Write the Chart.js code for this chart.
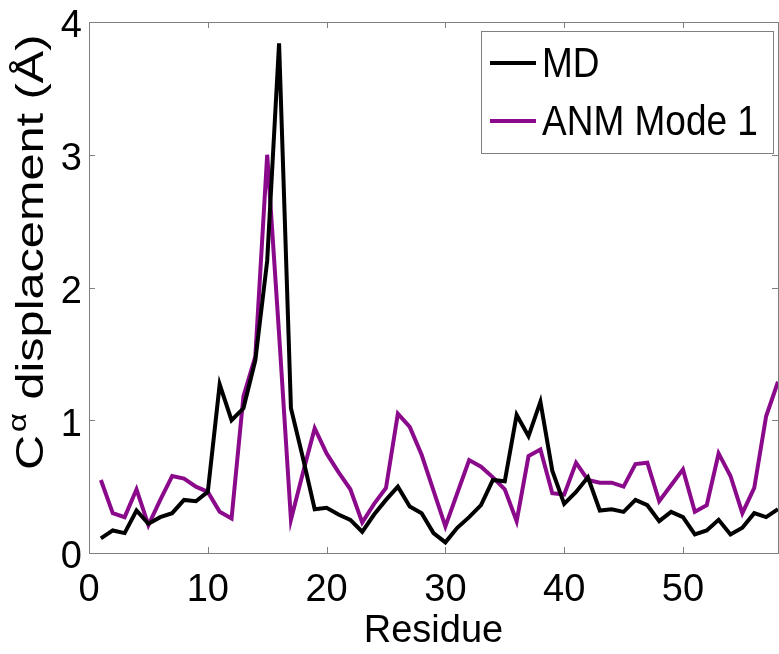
<!DOCTYPE html>
<html>
<head>
<meta charset="utf-8">
<script src="https://cdn.jsdelivr.net/npm/chart.js@4"></script>
<style>
html,body{margin:0;padding:0;background:#fff;}
#c{display:block;}
</style>
</head>
<body>
<canvas id="c" width="779" height="654"></canvas>
<script>
const residues = [1,2,3,4,5,6,7,8,9,10,11,12,13,14,15,16,17,18,19,20,21,22,23,24,25,26,27,28,29,30,31,32,33,34,35,36,37,38,39,40,41,42,43,44,45,46,47,48,49,50,51,52,53,54,55,56,57,58];
const mdValues = [0.11,0.17,0.15,0.32,0.22,0.27,0.30,0.40,0.39,0.46,1.27,1.00,1.09,1.45,2.20,3.84,1.09,0.72,0.33,0.34,0.29,0.25,0.16,0.29,0.40,0.50,0.35,0.30,0.15,0.08,0.19,0.27,0.36,0.55,0.54,1.04,0.88,1.14,0.62,0.37,0.46,0.57,0.32,0.33,0.31,0.40,0.36,0.24,0.31,0.27,0.14,0.17,0.25,0.14,0.19,0.30,0.27,0.33];
const anmValues = [0.55,0.30,0.27,0.48,0.21,0.40,0.58,0.56,0.50,0.46,0.31,0.26,1.18,1.48,3.00,1.65,0.25,0.60,0.94,0.75,0.61,0.48,0.23,0.37,0.49,1.05,0.95,0.74,0.47,0.20,0.45,0.70,0.65,0.57,0.48,0.24,0.73,0.78,0.45,0.44,0.68,0.55,0.53,0.53,0.50,0.67,0.68,0.39,0.51,0.63,0.31,0.36,0.75,0.58,0.30,0.49,1.03,1.29];
const xTickValues = [0, 10, 20, 30, 40, 50];
const yTickValues = [0, 1, 2, 3, 4];
const seriesLabels = ['MD', 'ANM Mode 1'];
const xTitle = 'Residue';
const yTitleMain = 'C';
const yTitleSup = '\u03B1';
const yTitleRest = ' displacement (\u00C5)';

const FONT = "'Liberation Sans', Arial, sans-serif";
const toPts = (vals) => residues.map((r, i) => ({x: r, y: vals[i]}));

const frameTicks = {
  id: 'frameTicks',
  afterDraw(chart) {
    const {ctx, chartArea: a, scales} = chart;
    ctx.save();
    ctx.strokeStyle = '#808080';
    ctx.lineWidth = 1;
    ctx.strokeRect(a.left + 0.5, a.top + 0.5, a.right - a.left, a.bottom - a.top);
    const L = 6;
    ctx.beginPath();
    scales.x.ticks.forEach(t => {
      const px = Math.round(scales.x.getPixelForValue(t.value)) + 0.5;
      ctx.moveTo(px, a.bottom); ctx.lineTo(px, a.bottom - L);
      ctx.moveTo(px, a.top); ctx.lineTo(px, a.top + L);
    });
    scales.y.ticks.forEach(t => {
      const py = Math.round(scales.y.getPixelForValue(t.value)) + 0.5;
      ctx.moveTo(a.left, py); ctx.lineTo(a.left + L, py);
      ctx.moveTo(a.right, py); ctx.lineTo(a.right - L, py);
    });
    ctx.stroke();

    // legend box
    const bx = 481, by = 31, bw = 292, bh = 122;
    ctx.fillStyle = '#fff';
    ctx.fillRect(bx, by, bw, bh);
    ctx.strokeStyle = '#808080';
    ctx.strokeRect(bx + 0.5, by + 0.5, bw, bh);
    ctx.textBaseline = 'middle';
    ctx.textAlign = 'left';
    const rows = [63, 121];
    chart.data.datasets.forEach((ds, i) => {
      const y = rows[i];
      ctx.strokeStyle = ds.borderColor;
      ctx.lineWidth = 4;
      ctx.beginPath();
      ctx.moveTo(490, y); ctx.lineTo(536, y);
      ctx.stroke();
      ctx.save();
      ctx.translate(542, y + 2);
      ctx.scale(1, 1.15);
      ctx.font = '37px ' + FONT;
      ctx.fillStyle = '#000';
      ctx.fillText(ds.label, 0, 0);
      ctx.restore();
    });

    // y axis title (stretched along its length like the reference)
    ctx.save();
    ctx.translate(43, 470);
    ctx.rotate(-Math.PI / 2);
    ctx.scale(1.28, 1);
    ctx.fillStyle = '#000';
    ctx.textBaseline = 'alphabetic';
    ctx.textAlign = 'left';
    ctx.font = '38px ' + FONT;
    ctx.fillText(yTitleMain, 0, 0);
    let w = ctx.measureText(yTitleMain).width;
    ctx.font = '26px ' + FONT;
    ctx.fillText(yTitleSup, w + 2, -17);
    w += 2 + ctx.measureText(yTitleSup).width;
    ctx.font = '38px ' + FONT;
    ctx.fillText(yTitleRest, w, 0);
    ctx.restore();
    ctx.restore();
  }
};

new Chart(document.getElementById('c'), {
  type: 'line',
  data: {
    datasets: [
      {label: seriesLabels[0], data: toPts(mdValues), borderColor: '#000000', borderWidth: 4, pointRadius: 0, tension: 0, fill: false},
      {label: seriesLabels[1], data: toPts(anmValues), borderColor: '#8b0a8b', borderWidth: 4, pointRadius: 0, tension: 0, fill: false}
    ]
  },
  options: {
    responsive: false,
    devicePixelRatio: 1,
    animation: false,
    layout: {padding: {top: 22, right: 1, left: 0, bottom: 0}},
    plugins: {legend: {display: false}, tooltip: {enabled: false}},
    scales: {
      x: {
        type: 'linear', min: 0, max: 58,
        afterBuildTicks: s => { s.ticks = xTickValues.map(v => ({value: v})); },
        afterFit: s => { s.height = 101; s.paddingLeft = 0; s.paddingRight = 0; },
        ticks: {color: '#000', font: {family: FONT, size: 38}, padding: 15, maxRotation: 0, autoSkip: false},
        grid: {display: true, drawOnChartArea: false, drawTicks: false},
        border: {display: false},
        title: {display: true, text: xTitle, color: '#000', font: {family: FONT, size: 38}, padding: 0}
      },
      y: {
        min: 0, max: 4,
        afterBuildTicks: s => { s.ticks = yTickValues.map(v => ({value: v})); },
        afterFit: s => { s.width = 89; s.paddingTop = 0; s.paddingBottom = 0; },
        ticks: {color: '#000', font: {family: FONT, size: 38}, padding: 7, labelOffset: 5},
        grid: {display: true, drawOnChartArea: false, drawTicks: false},
        border: {display: false},
        title: {display: false}
      }
    }
  },
  plugins: [frameTicks]
});
</script>
</body>
</html>
